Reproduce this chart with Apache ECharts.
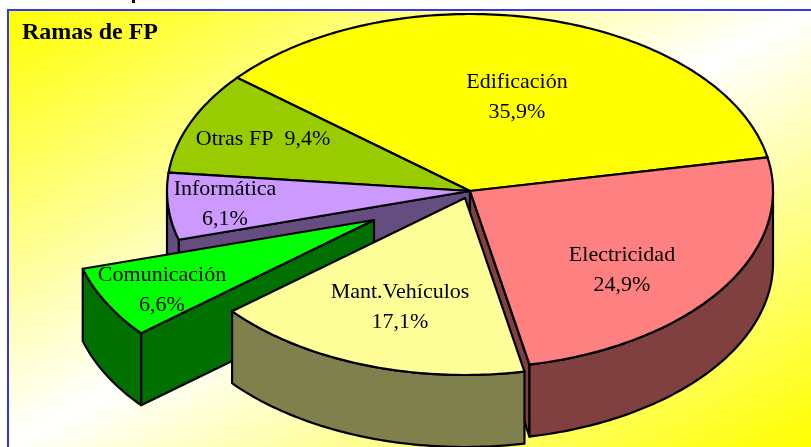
<!DOCTYPE html>
<html><head><meta charset="utf-8">
<style>html,body{margin:0;padding:0;background:#fff}#c{width:811px;height:447px}</style>
<script src="https://cdn.jsdelivr.net/npm/echarts@6/dist/echarts.min.js"></script>
</head><body><div id="c"></div>
<script>
// ---- data ----
const categories = ['Edificación','Electricidad','Mant.Vehículos','Comunicación','Informática','Otras FP'];
const shares = [35.9,24.9,17.1,6.6,6.1,9.4];
const shareLabels = ['35,9%','24,9%','17,1%','6,6%','6,1%','9,4%'];
const chartTitle = 'Ramas de FP';
// ---- styles / layout ----
const topColors  = ['#ffff00','#ff8080','#ffff99','#00ff00','#cc99ff','#99cc00'];
const sideColors = ['#808000','#804040','#80804d','#007000','#664d80','#4d6600'];
const explode = [[0,0],[0,0],[-5,7],[-96,29],[0,0],[0,0]];
const paintOrder = [0,5,4,1,3,2];
const labelAt = [[517,97],[622,270],[400,307],[162,290],[225,204],[263,139]];
const labelOneLine = [false,false,false,false,false,true];
const cx=470, cy=191, rx=303, ry=177, depth=72, startDeg=-140.2;

const rad = d => d*Math.PI/180;
const total = shares.reduce((a,b)=>a+b,0);
function ring(a,b,ox,oy,dz){
  const pts=[], n=Math.max(2,Math.ceil(Math.abs(b-a)));
  for(let i=0;i<=n;i++){const t=rad(a+(b-a)*i/n);
    pts.push([cx+ox+rx*Math.cos(t), cy+oy+ry*Math.sin(t)+dz]);}
  return pts;
}
const edge={stroke:'#000',lineWidth:2.2,lineJoin:'round'};
function poly(points,fill,z2){return {type:'polygon',z2,shape:{points},style:Object.assign({fill},edge)};}

function renderItem(params,api){
  const i=params.dataIndex;
  let acc=0; for(let k=0;k<i;k++) acc+=shares[k];
  const a=startDeg+acc/total*360, b=a+api.value(0)/total*360;
  const [ox,oy]=explode[i], order=paintOrder.indexOf(i)*10, side=sideColors[i];
  const c=[cx+ox,cy+oy], children=[];
  const wall=(deg,z)=>{const p=ring(deg,deg,ox,oy,0)[0];
    children.push(poly([c,p,[p[0],p[1]+depth],[c[0],c[1]+depth]],side,z));};
  if(Math.sin(rad(a-90))>0) wall(a,order+1);
  if(Math.sin(rad(b+90))>0) wall(b,order+1);
  const s0=Math.max(a,0), s1=Math.min(b,180);
  if(s1>s0){const up=ring(s0,s1,ox,oy,0), dn=ring(s0,s1,ox,oy,depth).reverse();
    children.push(poly(up.concat(dn),side,order+2));}
  children.push(poly([c].concat(ring(a,b,ox,oy,0)),topColors[i],order+3));
  return {type:'group',children};
}
const font='"Liberation Serif","Times New Roman",serif';
const labelGraphics=categories.map((n,i)=>({
  type:'text',z:50,x:labelAt[i][0],y:labelAt[i][1],
  style:{text:labelOneLine[i]?n+'  '+shareLabels[i]:n+'\n'+shareLabels[i],
    font:'22px '+font,lineHeight:30,fill:'#000',align:'center',verticalAlign:'middle'}
}));
const chart=echarts.init(document.getElementById('c'),null,{renderer:'canvas'});
chart.setOption({
  animation:false,
  graphic:[
    {type:'rect',z:-2,shape:{x:8,y:10,width:803,height:437},
     style:{fill:new echarts.graphic.LinearGradient(8,10,375,684,[
         {offset:0,color:'#ffff00'},{offset:.5,color:'#ffffff'},{offset:1,color:'#ffff00'}],true)}},
    {type:'polyline',z:-1,shape:{points:[[8,447],[8,10],[811,10]]},style:{stroke:'#3333ff',lineWidth:2,fill:null}},
    {type:'rect',z:-1,shape:{x:132,y:0,width:3,height:3},style:{fill:'#000'}},
    {type:'text',z:50,x:22,y:33,style:{text:chartTitle,font:'bold 24px '+font,fill:'#000',align:'left',verticalAlign:'middle'}}
  ].concat(labelGraphics),
  series:[{type:'custom',coordinateSystem:'none',silent:true,clip:false,
    renderItem,data:shares.map(v=>[v])}]
});
</script></body></html>
